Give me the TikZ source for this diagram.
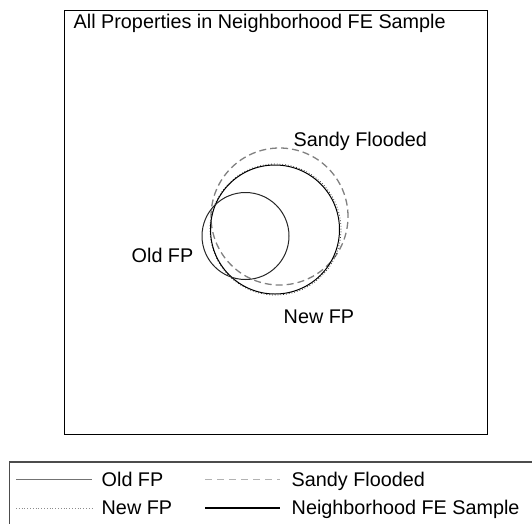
\documentclass[tikz,border=0pt]{standalone}
\usepackage{fontspec}
\setmainfont{Liberation Sans}
\begin{document}
\begin{tikzpicture}[x=1pt,y=-1pt,
  lbl/.style={font=\fontsize{19.8}{22}\selectfont, inner sep=0pt, anchor=base west},
  oldfp/.style={draw=black!85, line width=1pt},
  newfp/.style={draw=black!80, line width=0.8pt, dotted},
  sandy/.style={draw=black!50, line width=1.3pt, dash pattern=on 7pt off 4pt},
  fesamp/.style={draw=black, line width=1pt}]
\useasboundingbox (0,0) rectangle (532,523);
\clip (0,0) rectangle (532,523);
% main frame
\node[draw=black, line width=1.5pt, minimum width=423pt, minimum height=424pt, inner sep=0pt, anchor=north west] (frame) at (63.5,9.5) {};
\node[lbl] (title) at (73.5,28.3) {All Properties in Neighborhood FE Sample};
% circles
\node[circle, sandy, minimum size=137pt, inner sep=0pt] (sandyc) at (279.5,216.5) {};
\node[circle, newfp, minimum size=131pt, inner sep=0pt] (newc) at (275.5,229.5) {};
\node[circle, fesamp, minimum size=129pt, inner sep=0pt] (fec) at (275,229.5) {};
\node[circle, oldfp, minimum size=87pt, inner sep=0pt] (oldc) at (245.5,236) {};
% labels
\node[lbl] (sandylbl) at (293.5,146) {Sandy Flooded};
\node[lbl] (oldlbl) at (131.5,262) {Old FP};
\node[lbl] (newlbl) at (283.5,323) {New FP};
% legend
\node[draw=black!70, line width=1.5pt, minimum width=560pt, minimum height=90pt, inner sep=0pt, anchor=north west] (legend) at (8.5,461) {};
\coordinate (l1a) at (16,479); \coordinate (l1b) at (92,479);
\coordinate (l2a) at (16,508); \coordinate (l2b) at (92,508);
\coordinate (l3a) at (205,479); \coordinate (l3b) at (280,479);
\coordinate (l4a) at (205,508); \coordinate (l4b) at (280,508);
\draw[draw=black!55, line width=1pt] (l1a) -- (l1b);
\draw[draw=black!45, line width=0.8pt, dotted] (l2a) -- (l2b);
\draw[draw=black!30, line width=1pt, dash pattern=on 7pt off 5pt] (l3a) -- (l3b);
\draw[draw=black, line width=1.3pt] (l4a) -- (l4b);
\node[lbl] (t1) at (101.5,486.5) {Old FP};
\node[lbl] (t2) at (101.5,514) {New FP};
\node[lbl] (t3) at (291.5,486.5) {Sandy Flooded};
\node[lbl] (t4) at (291.5,514) {Neighborhood FE Sample};
\end{tikzpicture}
\end{document}
